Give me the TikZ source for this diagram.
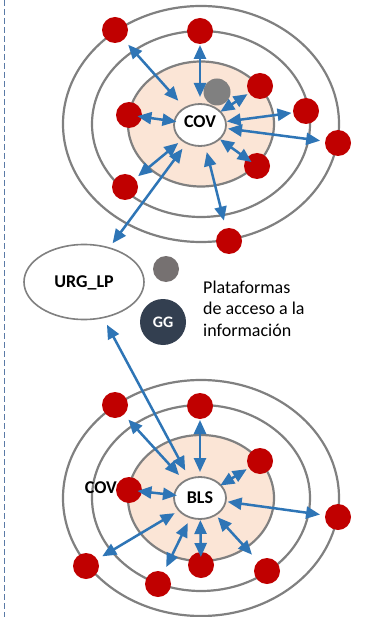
\documentclass[tikz,border=0pt]{standalone}
\usepackage{fontspec}
\setmainfont{Carlito}
\usetikzlibrary{arrows.meta,calc,shapes.geometric}
\definecolor{redd}{HTML}{C00000}
\definecolor{arrblue}{HTML}{2E75B6}
\definecolor{ringgray}{HTML}{808080}
\definecolor{peach}{HTML}{FBE5D6}
\definecolor{navy}{HTML}{333F50}
\definecolor{dotgray}{HTML}{767171}
\definecolor{dashc}{HTML}{5A7AA6}
\newcommand\linkarrow[4]{\draw[arr] ($(#1)!#2pt!(#3)$) -- ($(#3)!#4pt!(#1)$);}
\begin{document}
\begin{tikzpicture}[x=1pt,y=-1pt,
  ring/.style={draw=ringgray,line width=2.2pt},
  reddot/.style={circle,fill=redd,minimum size=26pt,inner sep=0pt,outer sep=0pt},
  graydot/.style={circle,fill=#1,minimum size=27pt,inner sep=0pt,outer sep=0pt},
  arr/.style={draw=arrblue,line width=2.5pt,{Triangle[length=14pt,width=12pt]}-{Triangle[length=14pt,width=12pt]}},
  hub/.style={ellipse,draw=ringgray,line width=1.8pt,fill=white,minimum width=52pt,minimum height=42pt,inner sep=0pt,outer sep=0pt},
  boldlabel/.style={font=\fontsize{18}{20}\selectfont\bfseries,inner sep=0pt},
  plain/.style={font=\fontsize{18}{21.5}\selectfont,inner sep=0pt}]
\useasboundingbox (0,0) rectangle (364,617);
\fill[white] (0,0) rectangle (364,617);
% left dashed border
\draw[dashc,line width=1pt,dash pattern=on 6pt off 3pt] (4,0) -- (4,617);

% ---------- top cluster ----------
\draw[ring] (201,124) ellipse [x radius=138pt, y radius=118pt];
\draw[ring] (201,124) ellipse [x radius=109pt, y radius=93pt];
\draw[ring,fill=peach] (201,124) ellipse [x radius=73pt, y radius=62.5pt];
\node[graydot=ringgray] (g1) at (217,92) {};
\node[hub,label={[boldlabel,yshift=3.5pt]center:COV}] (cov) at (200,125) {};
\node[reddot] (t1) at (115,30) {};
\node[reddot] (t2) at (200,31) {};
\node[reddot] (t3) at (260,86) {};
\node[reddot] (t4) at (306,111) {};
\node[reddot] (t5) at (338,143) {};
\node[reddot] (t6) at (257,166) {};
\node[reddot] (t7) at (129,115) {};
\node[reddot] (t8) at (125,187) {};
\node[reddot] (t9) at (229,241) {};

% ---------- middle ----------
\node[ellipse,draw=ringgray,line width=1.6pt,fill=white,minimum width=120pt,minimum height=75pt,inner sep=0pt,outer sep=0pt,boldlabel,text depth=0pt] (urg) at (84,282) {URG\_LP};
\node[graydot=dotgray,minimum size=26pt] (g2) at (166,269) {};
\node[circle,fill=navy,minimum size=46pt,inner sep=0pt,text=white,font=\fontsize{16}{18}\selectfont\bfseries] (gg) at (163,322) {GG};
\node[plain,anchor=base west,align=left] (plat) at (203,336) {Plataformas\\de acceso a la\\información};

% ---------- bottom cluster ----------
\draw[ring] (201,498) ellipse [x radius=138pt, y radius=118pt];
\draw[ring] (201,498) ellipse [x radius=109pt, y radius=93pt];
\draw[ring,fill=peach] (201,498) ellipse [x radius=73pt, y radius=63pt];
\node[hub,boldlabel,text depth=0pt] (bls) at (200,498) {BLS};
\node[boldlabel,anchor=base east] (covlbl) at (117,493.3) {COV};
\node[reddot] (b1) at (115,405) {};
\node[reddot] (b2) at (200,406) {};
\node[reddot] (b3) at (260,461) {};
\node[reddot] (b4) at (338,517) {};
\node[reddot] (b5) at (267,571) {};
\node[reddot] (b6) at (201,565) {};
\node[reddot] (b7) at (158,584) {};
\node[reddot] (b8) at (86,566) {};
\node[reddot] (b9) at (129,490) {};

% ---------- arrows ----------
\linkarrow{t1}{19.8}{cov}{32.5}
\linkarrow{t2}{14}{cov}{28}
\linkarrow{cov}{24.3}{t3}{14.9}
\linkarrow{t7}{8.5}{cov}{23.8}
\linkarrow{cov}{27}{t4}{14.6}
\linkarrow{cov}{28.2}{t5}{18}
\linkarrow{cov}{24.7}{t6}{6.7}
\linkarrow{cov}{28.3}{t8}{17}
\linkarrow{cov}{27.9}{t9}{21}
\linkarrow{cov}{29.5}{urg}{48.1}
\linkarrow{urg}{48.5}{bls}{31.3}
\linkarrow{b1}{19.8}{bls}{31.1}
\linkarrow{b2}{14}{bls}{26}
\linkarrow{bls}{23.8}{b3}{15.6}
\linkarrow{b9}{8.5}{bls}{23.2}
\linkarrow{bls}{27.9}{b4}{18.1}
\linkarrow{bls}{29.5}{b8}{18.9}
\linkarrow{bls}{27.9}{b7}{18.8}
\linkarrow{bls}{22}{b6}{8}
\linkarrow{bls}{26.2}{b5}{22.2}
\end{tikzpicture}
\end{document}
